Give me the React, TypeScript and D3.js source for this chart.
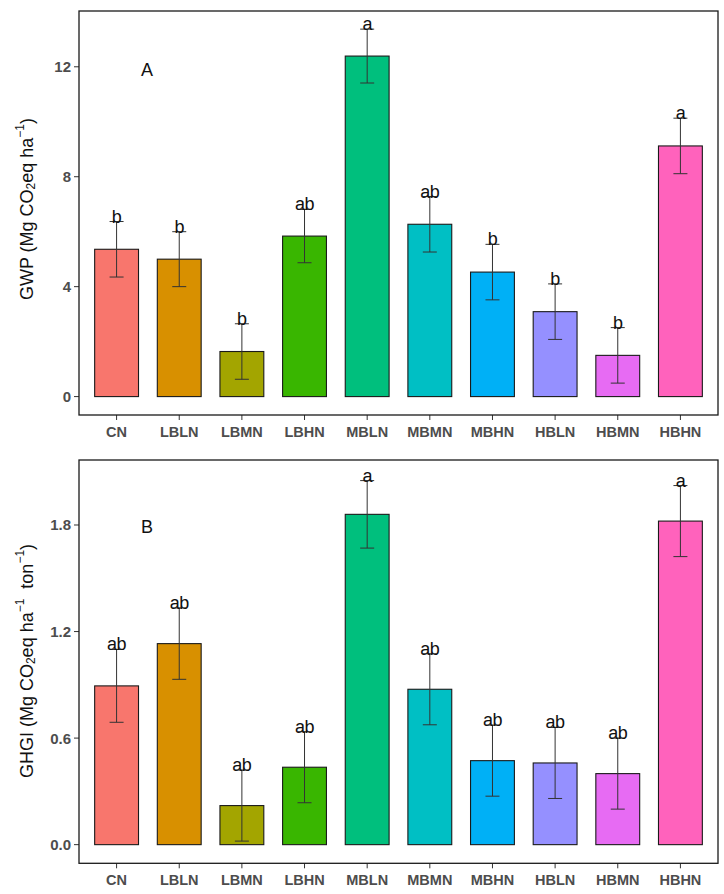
import React from "react";
import * as d3 from "d3";

const categories = ["CN", "LBLN", "LBMN", "LBHN", "MBLN", "MBMN", "MBHN", "HBLN", "HBMN", "HBHN"];
const colors = ["#F8766D", "#D89000", "#A3A500", "#39B600", "#00BF7D", "#00BFC4", "#00B0F6", "#9590FF", "#E76BF3", "#FF62BC"];

const gwpValues = [5.36, 5.0, 1.64, 5.84, 12.39, 6.27, 4.53, 3.09, 1.5, 9.12];
const gwpErrors = [1.01, 1.0, 1.01, 0.97, 0.98, 1.01, 1.01, 1.01, 1.01, 1.01];
const gwpLetters = ["b", "b", "b", "ab", "a", "ab", "b", "b", "b", "a"];
const gwpTicks = [0, 4, 8, 12];

const ghgiValues = [0.894, 1.132, 0.22, 0.436, 1.86, 0.875, 0.473, 0.46, 0.4, 1.822];
const ghgiErrors = [0.205, 0.201, 0.2, 0.2, 0.19, 0.2, 0.2, 0.2, 0.2, 0.2];
const ghgiLetters = ["ab", "ab", "ab", "ab", "a", "ab", "ab", "ab", "ab", "a"];
const ghgiTicks = [0, 0.6, 1.2, 1.8];

const FONT = "'Liberation Sans', Arial, Helvetica, sans-serif";

type PanelProps = {
  top: number;
  bottom: number;
  domain: [number, number];
  values: number[];
  errors: number[];
  letters: string[];
  ticks: number[];
  tickFmt: (v: number) => string;
  tag: string;
  tagY: number;
  titleY: number;
  title: React.ReactNode;
};

const LEFT = 79;
const RIGHT = 718;

function Panel(p: PanelProps) {
  const x = d3.scalePoint<string>().domain(categories).range([LEFT, RIGHT]).padding(0.6);
  const y = d3.scaleLinear().domain(p.domain).range([p.bottom, p.top]);
  const bw = x.step() * 0.7;
  const cap = 14;
  return (
    <g>
      {categories.map((c, i) => {
        const cx = x(c)!;
        const v = p.values[i];
        const e = p.errors[i];
        return (
          <g key={c}>
            <rect
              x={cx - bw / 2}
              y={y(v)}
              width={bw}
              height={y(0) - y(v)}
              fill={colors[i]}
              stroke="#1a1a1a"
              strokeWidth={1.1}
            />
            <line x1={cx} x2={cx} y1={y(v + e)} y2={y(v - e)} stroke="#333" strokeWidth={1} />
            <line x1={cx - cap / 2} x2={cx + cap / 2} y1={y(v + e)} y2={y(v + e)} stroke="#333" strokeWidth={1} />
            <line x1={cx - cap / 2} x2={cx + cap / 2} y1={y(v - e)} y2={y(v - e)} stroke="#333" strokeWidth={1} />
            <text
              x={cx}
              y={y(v + e) + 1}
              textAnchor="middle"
              fontSize={18}
              fontFamily={FONT}
              fill="#111"
              letterSpacing={-0.5}
            >
              {p.letters[i]}
            </text>
            <line x1={cx} x2={cx} y1={p.bottom} y2={p.bottom + 5} stroke="#333" strokeWidth={1} />
            <text
              x={cx}
              y={p.bottom + 17}
              textAnchor="middle"
              dominantBaseline="central"
              fontSize={14.5}
              fontWeight="bold"
              fontFamily={FONT}
              fill="#4D4D4D"
            >
              {c}
            </text>
          </g>
        );
      })}
      {p.ticks.map((t) => (
        <g key={t}>
          <line x1={LEFT - 5} x2={LEFT} y1={y(t)} y2={y(t)} stroke="#333" strokeWidth={1} />
          <text
            x={LEFT - 8}
            y={y(t)}
            textAnchor="end"
            dominantBaseline="central"
            fontSize={15}
            fontWeight="bold"
            fontFamily={FONT}
            fill="#4D4D4D"
          >
            {p.tickFmt(t)}
          </text>
        </g>
      ))}
      <rect
        x={LEFT}
        y={p.top}
        width={RIGHT - LEFT}
        height={p.bottom - p.top}
        fill="none"
        stroke="#1a1a1a"
        strokeWidth={1.3}
      />
      <text x={147} y={p.tagY} textAnchor="middle" dominantBaseline="central" fontSize={18} fontFamily={FONT} fill="#111">
        {p.tag}
      </text>
      <text
        transform={`translate(27,${p.titleY}) rotate(-90)`}
        textAnchor="middle"
        dominantBaseline="central"
        fontSize={18}
        fontFamily={FONT}
        fill="#111"
      >
        {p.title}
      </text>
    </g>
  );
}

export default function App() {
  return (
    <svg
      width={724}
      height={894}
      style={{ position: "absolute", left: 0, top: 0, background: "#fff" }}
      xmlns="http://www.w3.org/2000/svg"
    >
      <rect width={724} height={894} fill="#fff" />
      <Panel
        top={11}
        bottom={415}
        domain={[-0.67, 14.03]}
        values={gwpValues}
        errors={gwpErrors}
        letters={gwpLetters}
        ticks={gwpTicks}
        tickFmt={(v) => String(v)}
        tag="A"
        tagY={70}
        titleY={209}
        title={
          <>
            <tspan>GWP (Mg CO</tspan>
            <tspan fontSize={12} dy={4}>2</tspan>
            <tspan dy={-4}>eq ha</tspan>
            <tspan fontSize={12} dy={-7}>−1</tspan>
            <tspan dy={7}>)</tspan>
          </>
        }
      />
      <Panel
        top={460}
        bottom={863.3}
        domain={[-0.105, 2.166]}
        values={ghgiValues}
        errors={ghgiErrors}
        letters={ghgiLetters}
        ticks={ghgiTicks}
        tickFmt={(v) => d3.format(".1f")(v)}
        tag="B"
        tagY={527}
        titleY={661}
        title={
          <>
            <tspan>GHGI (Mg CO</tspan>
            <tspan fontSize={12} dy={4}>2</tspan>
            <tspan dy={-4}>eq ha</tspan>
            <tspan fontSize={12} dy={-7}>−1</tspan>
            <tspan dy={7}>{"\u00A0\u00A0ton"}</tspan>
            <tspan fontSize={12} dy={-7}>−1</tspan>
            <tspan dy={7}>)</tspan>
          </>
        }
      />
    </svg>
  );
}
